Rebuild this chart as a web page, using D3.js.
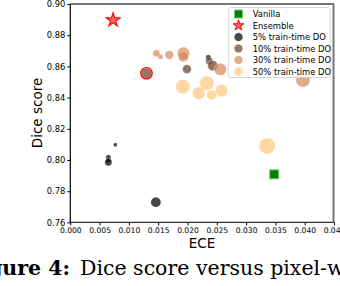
<!DOCTYPE html>
<html>
<head>
<meta charset="utf-8">
<script src="https://cdn.jsdelivr.net/npm/d3@7"></script>
<style>
  body { margin: 0; background: #fff; }
</style>
</head>
<body>
<div id="chart"></div>
<script>
// ECE / Dice / test-time dropout rate for each run
const do5Ece  = [0.0065, 0.0065, 0.0065, 0.0077, 0.0146, 0.02355];
const do5Dice = [0.8018, 0.8000, 0.7985, 0.8098, 0.7729, 0.8658];
const do5Tt   = [0.05, 0.05, 0.1, 0.03, 0.2, 0.05];

const do10Ece  = [0.0130, 0.0199, 0.0237, 0.0243];
const do10Dice = [0.8556, 0.8583, 0.8635, 0.8605];
const do10Tt   = [0.2, 0.15, 0.1, 0.2];

const do30Ece  = [0.0147, 0.0154, 0.0169, 0.0193, 0.0193, 0.0256, 0.0397];
const do30Dice = [0.8684, 0.8662, 0.8673, 0.8684, 0.8662, 0.8581, 0.8513];
const do30Tt   = [0.1, 0.05, 0.15, 0.3, 0.2, 0.3, 0.4];

const do50Ece  = [0.0192, 0.0219, 0.0233, 0.0241, 0.0258, 0.0336];
const do50Dice = [0.8470, 0.8428, 0.8492, 0.8417, 0.8444, 0.8090];
const do50Tt   = [0.4, 0.3, 0.4, 0.2, 0.3, 0.5];

const vanilla  = [0.0348, 0.7908];
const ensemble = [0.0073, 0.8897];
const bestRun  = [0.0130, 0.8556];

const xTicks = [0, 0.005, 0.01, 0.015, 0.02, 0.025, 0.03, 0.035, 0.04, 0.045];
const yTicks = [0.76, 0.78, 0.80, 0.82, 0.84, 0.86, 0.88, 0.90];
const legendLabels = ["Vanilla", "Ensemble", "5% train-time DO", "10% train-time DO", "30% train-time DO", "50% train-time DO"];

const width = 340, height = 286;
const sans = "DejaVu Sans, sans-serif";
const serif = "DejaVu Serif, serif";
const svg = d3.select("#chart").append("svg")
    .attr("width", width).attr("height", height)
    .style("font-family", sans);

const x = d3.scaleLinear().domain([0, 0.045]).range([70.3, 334]);
const y = d3.scaleLinear().domain([0.76, 0.90]).range([222.4, 4]);
const r = d3.scaleSqrt().domain([0, 0.5]).range([0, 8]);

const copper = ["#000000", "#6a422a", "#d48555", "#ffc77f"];

const series = [
    { ece: do5Ece,  dice: do5Dice,  tt: do5Tt,  color: copper[0], op: 0.72 },
    { ece: do10Ece, dice: do10Dice, tt: do10Tt, color: copper[1], op: 0.72 },
    { ece: do30Ece, dice: do30Dice, tt: do30Tt, color: copper[2], op: 0.68 },
    { ece: do50Ece, dice: do50Dice, tt: do50Tt, color: copper[3], op: 0.72 }
];

// axes
const xAxis = svg.append("g").attr("transform", "translate(0,222.4)")
    .call(d3.axisBottom(x).tickValues(xTicks).tickSize(3).tickPadding(2)
        .tickFormat(d3.format(".3f")));
xAxis.select(".domain").remove();
xAxis.selectAll("text").attr("font-size", 7.6).style("font-family", sans).attr("fill", "#000");

const yAxis = svg.append("g").attr("transform", "translate(70.3,0)")
    .call(d3.axisLeft(y).tickValues(yTicks).tickSize(3).tickPadding(2).tickFormat(d3.format(".2f")));
yAxis.select(".domain").remove();
yAxis.selectAll("text").attr("font-size", 8.4).style("font-family", sans).attr("fill", "#000");

// frame
svg.append("line").attr("x1", 70.3).attr("x2", 334).attr("y1", 4).attr("y2", 4)
    .attr("stroke", "#777").attr("stroke-width", 2);
svg.append("line").attr("x1", 333.5).attr("x2", 333.5).attr("y1", 4).attr("y2", 222.4)
    .attr("stroke", "#777").attr("stroke-width", 2);
svg.append("line").attr("x1", 70.3).attr("x2", 334).attr("y1", 222.4).attr("y2", 222.4)
    .attr("stroke", "#333").attr("stroke-width", 1.2);
svg.append("line").attr("x1", 70.3).attr("x2", 70.3).attr("y1", 4).attr("y2", 222.8)
    .attr("stroke", "#000").attr("stroke-width", 1.2);

// points
series.forEach(s => {
    svg.append("g").selectAll("circle")
        .data(s.ece.map((e, i) => ({ e: e, d: s.dice[i], t: s.tt[i] })))
        .enter().append("circle")
        .attr("cx", d => x(d.e))
        .attr("cy", d => y(d.d))
        .attr("r", d => r(d.t))
        .attr("fill", s.color)
        .attr("fill-opacity", s.op)
        .attr("stroke", "#fff")
        .attr("stroke-opacity", 0.8)
        .attr("stroke-width", 0.7)
        .attr("stroke-dasharray", "1.2,0.9");
});

// highlighted run
svg.append("circle")
    .attr("cx", x(bestRun[0])).attr("cy", y(bestRun[1])).attr("r", r(0.2) + 0.6)
    .attr("fill", "none").attr("stroke", "red").attr("stroke-width", 1.4);

// vanilla & ensemble
svg.append("rect")
    .attr("x", x(vanilla[0]) - 4.5).attr("y", y(vanilla[1]) - 4.5)
    .attr("width", 9).attr("height", 9)
    .attr("fill", "#008000").attr("stroke", "#7ec87e").attr("stroke-width", 1);
svg.append("path")
    .attr("d", d3.symbol(d3.symbolStar, 60)())
    .attr("transform", `translate(${x(ensemble[0])},${y(ensemble[1])})`)
    .attr("fill", "#ff6060").attr("stroke", "red").attr("stroke-width", 1.1);

// axis titles
svg.append("text").attr("x", 202).attr("y", 248).attr("text-anchor", "middle")
    .attr("font-size", 13.5).text("ECE");
svg.append("text").attr("transform", "translate(42,113) rotate(-90)")
    .attr("text-anchor", "middle").attr("font-size", 13.5).text("Dice score");

// legend
const lg = svg.append("g");
lg.append("rect").attr("x", 228.3).attr("y", 7.5).attr("width", 102).attr("height", 70)
    .attr("rx", 2).attr("fill", "#fff").attr("fill-opacity", 0.85)
    .attr("stroke", "#ccc").attr("stroke-width", 0.8);
const rowY = i => 14 + i * 11.5;
const mx = 238.5;
lg.append("rect").attr("x", mx - 4).attr("y", rowY(0) - 4).attr("width", 8).attr("height", 8)
    .attr("fill", "#008000").attr("stroke", "#7ec87e").attr("stroke-width", 1);
lg.append("path").attr("d", d3.symbol(d3.symbolStar, 36)())
    .attr("transform", `translate(${mx},${rowY(1)})`)
    .attr("fill", "#ff6060").attr("stroke", "red").attr("stroke-width", 1);
series.forEach((s, i) => {
    lg.append("circle").attr("cx", mx).attr("cy", rowY(i + 2)).attr("r", 4.3)
        .attr("fill", s.color).attr("fill-opacity", s.op)
        .attr("stroke", "#fff").attr("stroke-opacity", 0.8)
        .attr("stroke-width", 0.7).attr("stroke-dasharray", "1.2,0.9");
});
lg.selectAll("text.lab").data(legendLabels).enter().append("text")
    .attr("class", "lab")
    .attr("x", 252.7).attr("y", (d, i) => rowY(i) + 3)
    .attr("font-size", 8.4).text(d => d);

// caption (cut off by the frame)
svg.append("text").attr("x", 70).attr("y", 275).attr("text-anchor", "end")
    .style("font-family", serif).attr("font-size", 20.5).attr("font-weight", "bold")
    .text("Figure 4:");
svg.append("text").attr("x", 80).attr("y", 275)
    .style("font-family", serif).attr("font-size", 20.5)
    .text("Dice score versus pixel-wise ECE");
</script>
</body>
</html>
